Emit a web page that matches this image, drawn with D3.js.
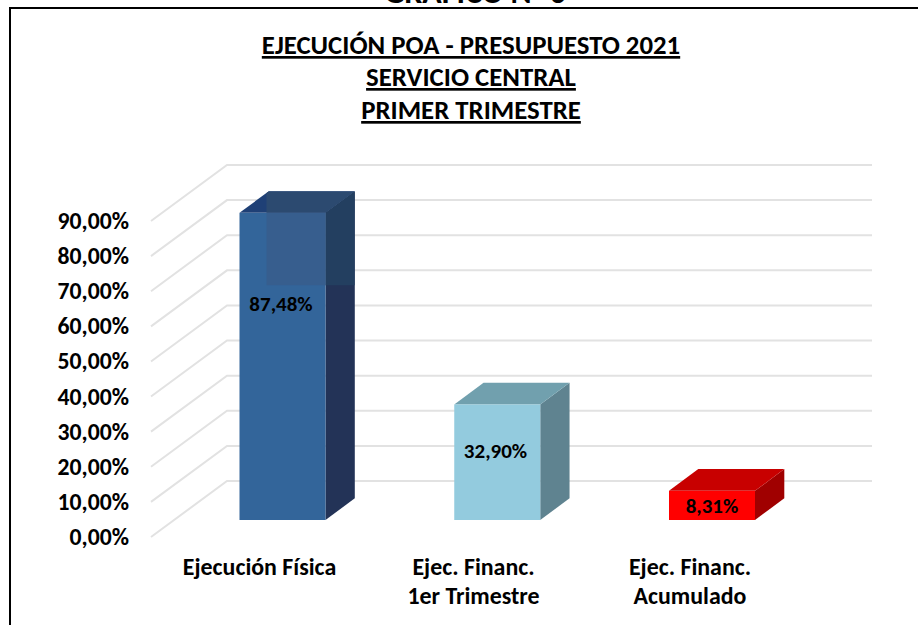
<!DOCTYPE html>
<html><head><meta charset="utf-8">
<script src="https://cdn.jsdelivr.net/npm/d3@7"></script>
<style>html,body{margin:0;padding:0;background:#fff}svg{display:block}text{font-family:Carlito,Calibri,"Open Sans","Noto Sans",sans-serif;font-weight:700;fill:#000}</style>
</head><body><svg id="c" width="918" height="625"></svg>
<script>
const categories=["Ejecución Física","Ejec. Financ.|1er Trimestre","Ejec. Financ.|Acumulado"];
const values=[87.48,32.90,8.31];
const valueLabels=["87,48%","32,90%","8,31%"];
const ticks=[0,10,20,30,40,50,60,70,80,90];
const tickLabels=ticks.map(t=>t+",00%");
const titleLines=["EJECUCIÓN POA - PRESUPUESTO 2021","SERVICIO CENTRAL","PRIMER TRIMESTRE"];
const frontColors=["#33659a","#93cbde","#ff0000"];
const topColors=["#1f4076","#71a0ae","#c80000"];
const sideColors=["#233357","#5f8390","#a00000"];

const svg=d3.select("#c");
// frame: left and top edges only
svg.append("path").attr("d","M10,625V8H918").attr("fill","none").attr("stroke","#000").attr("stroke-width",2);
// heading cut off by the picture's top edge, as in the reference
svg.append("text").attr("x",475).attr("y",3).attr("text-anchor","middle").attr("font-size",32).text("GRÁFICO N° 6");

titleLines.forEach((t,i)=>svg.append("text").attr("x",471).attr("y",[54,86,119][i]).attr("text-anchor","middle")
  .attr("font-size",26.8).attr("text-decoration","underline").text(t));

const y=d3.scaleLinear().domain([0,90]).range([537,221]);
const depth={x:76,y:-56};
const grid=svg.append("g").attr("fill","none").attr("stroke","#e2e2e2").attr("stroke-width",2);
ticks.forEach(t=>{
  const yy=y(t);
  grid.append("path").attr("d",`M151,${yy}L${151+depth.x},${yy+depth.y}H872`);
});
svg.append("g").selectAll("text").data(ticks).join("text")
  .attr("x",129).attr("y",d=>y(d)+8).attr("text-anchor","end").attr("font-size",23.7)
  .text((d,i)=>tickLabels[i]);

const bx=d3.scalePoint().domain(d3.range(3)).range([282.5,712]);
const bw=86, bd={x:29.3,y:-21.7}, base=y(0)-17;
const h=v=>y(0)-y(v);
const sidePath=(d,i)=>{const r=bx(i)+bw/2,t=base-h(d);
  return `M${r},${base}V${t}L${r+bd.x},${t+bd.y}V${base+bd.y}Z`;};
const topPath=(d,i)=>{const l=bx(i)-bw/2,t=base-h(d);
  return `M${l},${t}H${l+bw}L${l+bw+bd.x},${t+bd.y}H${l+bd.x}Z`;};
const bars=svg.append("g").selectAll("g").data(values).join("g");
bars.append("path").attr("fill",(d,i)=>sideColors[i]).attr("d",sidePath);
bars.append("path").attr("fill",(d,i)=>topColors[i]).attr("d",topPath);
bars.append("rect").attr("fill",(d,i)=>frontColors[i])
  .attr("x",(d,i)=>bx(i)-bw/2).attr("width",bw).attr("y",d=>base-h(d)).attr("height",d=>h(d));
// ghost panel on the first bar: the same faces in slightly shifted tones, clipped
const l0=bx(0)-bw/2, t0=base-h(values[0])+bd.y;
svg.append("clipPath").attr("id","ghost").append("rect")
  .attr("x",l0+27).attr("y",t0).attr("width",bw+bd.x-27).attr("height",94);
const ghost=svg.append("g").attr("clip-path","url(#ghost)");
ghost.append("path").attr("fill","#233f60").attr("d",sidePath(values[0],0));
ghost.append("path").attr("fill","#2c4a70").attr("d",topPath(values[0],0));
ghost.append("rect").attr("fill","#375e8e").attr("x",l0).attr("width",bw).attr("y",base-h(values[0])).attr("height",h(values[0]));

svg.append("g").selectAll("text").data(valueLabels).join("text")
  .attr("x",(d,i)=>[281,495.5,712][i]).attr("y",(d,i)=>[311,458,513][i]).attr("text-anchor","middle").attr("font-size",21).text(d=>d);
categories.forEach((c,i)=>{
  c.split("|").forEach((s,j)=>svg.append("text").attr("x",[259.5,473.5,690][i]).attr("y",575+j*29)
    .attr("text-anchor","middle").attr("font-size",23.9).text(s));
});
</script></body></html>
